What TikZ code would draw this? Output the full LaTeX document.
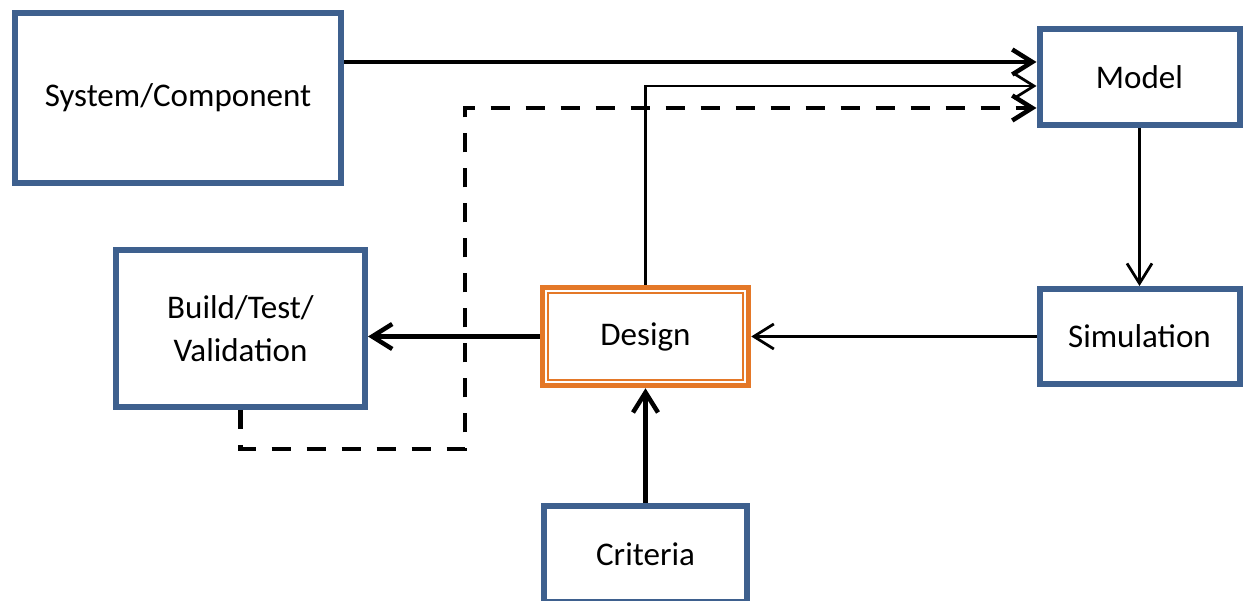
\documentclass[tikz,border=0pt]{standalone}
\usepackage{fontspec}
\setmainfont{Carlito}
\usetikzlibrary{positioning,arrows.meta}
\definecolor{boxblue}{RGB}{62,96,142}
\definecolor{designorange}{RGB}{228,120,40}

\begin{document}
\begin{tikzpicture}[on grid,
  every node/.style={font=\fontsize{18.8pt}{24.5pt}\selectfont},
  box/.style={draw=boxblue, line width=0.12cm, fill=white, align=center, inner sep=0pt},
  tip/.style={-{Straight Barb[length=0.4cm,width=0.5cm]}},
  thick line/.style={line width=0.09cm},
  thin line/.style={line width=0.055cm},
  dash line/.style={line width=0.09cm, dash pattern=on 0.38cm off 0.32cm}]
   \useasboundingbox (0,0) rectangle (24.96,-12.02);

   \node[box, draw=designorange, line width=0.11cm, minimum width=4.12cm, minimum height=1.96cm] (design) at (12.91,-6.73) {Design};
   \draw[designorange, line width=0.035cm] ([shift={(0.16,0.16)}]design.south west) rectangle ([shift={(-0.16,-0.16)}]design.north east);
   \node[box, minimum width=4cm, minimum height=1.9cm] (sim) [right=9.88cm of design] {Simulation};
   \node[box, minimum width=4cm, minimum height=1.92cm] (model) [above=5.19cm of sim] {Model};
   \node[box, minimum width=4.06cm, minimum height=1.92cm] (crit) [below=4.35cm of design] {Criteria};
   \node[box, minimum width=4.98cm, minimum height=3.14cm] (build) [above left=0.16cm and 8.1cm of design] {Build/Test/\\Validation};
   \node[box, minimum width=6.52cm, minimum height=3.4cm] (sys) [above left=4.61cm and 1.25cm of build] {System/Component};

   \coordinate (m1) at ([yshift=0.3cm]model.west);
   \coordinate (m2) at ([yshift=-0.18cm]model.west);
   \coordinate (m3) at ([yshift=-0.62cm]model.west);
   \coordinate (d1) at ([yshift=-0.78cm]build.south);
   \coordinate (d2) at ([xshift=4.49cm]d1);

   \draw[tip, thick line] (sys.east |- m1) -- (m1);
   \draw[tip, thin line] (design.north) |- (m2);
   \draw[tip, dash line] (build.south) -- (d1) -- (d2) |- (m3);
   \draw[tip, thin line] (model.south) -- (sim.north);
   \draw[tip, thin line] (sim.west) -- (design.east);
   \draw[tip, thick line] (design.west) -- (design.west -| build.east);
   \draw[tip, thick line] (crit.north) -- (design.south);
\end{tikzpicture}
\end{document}
